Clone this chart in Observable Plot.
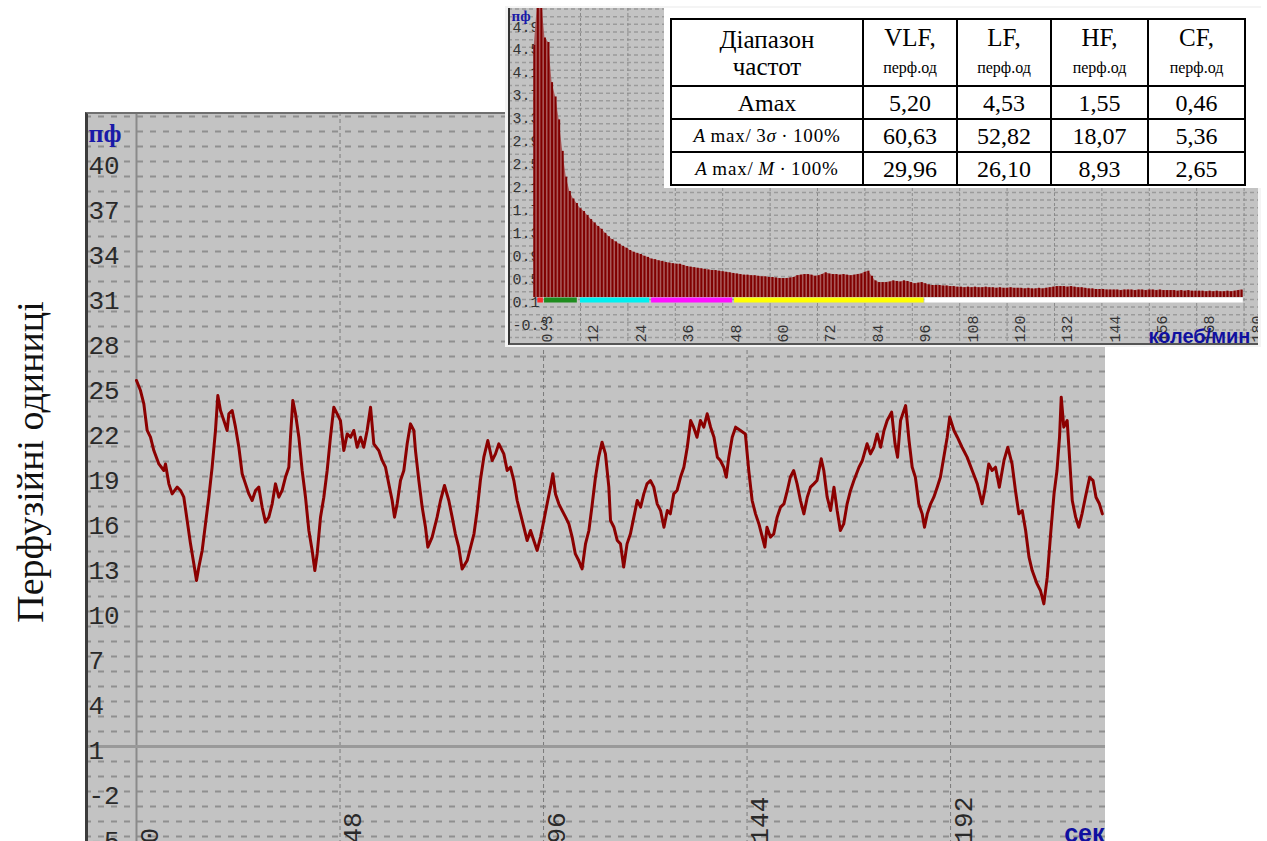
<!DOCTYPE html>
<html><head><meta charset="utf-8">
<script src="https://cdn.jsdelivr.net/npm/d3@7"></script>
<script src="https://cdn.jsdelivr.net/npm/@observablehq/plot@0.6"></script>
<style>
body{margin:0;background:#fff;width:1267px;height:841px;overflow:hidden;position:relative;}
.abs{position:absolute;}
#ylab{left:30px;top:462px;transform:translate(-50%,-50%) rotate(-90deg);white-space:nowrap;font-family:"Liberation Serif",serif;font-size:38px;color:#111;}
#tab{border-collapse:collapse;table-layout:fixed;font-family:"Liberation Serif",serif;color:#000;}
#tab td{border:2px solid #000;text-align:center;padding:0;font-size:24px;line-height:28px;vertical-align:middle;}
#tab tr.h td{line-height:27px;font-size:25px;}
#tab .u{font-size:16px;}
#tab td.f{font-size:19px;letter-spacing:0.8px;white-space:nowrap;}
</style></head><body>
<div id="ylab" class="abs">Перфузійні одиниці</div>
<div id="main" class="abs" style="left:85px;top:112px;width:1020px;height:729px;overflow:hidden"></div>
<div class="abs" style="left:85px;top:112px;width:1020px;height:729px;border-left:3px solid #3c3c3c;border-top:2px solid #707070;box-sizing:border-box;pointer-events:none"></div>
<div class="abs" style="left:505px;top:6px;width:756px;height:341px;background:#f4f4f4"></div>
<div id="inset" class="abs" style="left:508px;top:8px;width:750px;height:337px;overflow:hidden"></div>
<div class="abs" style="left:508px;top:8px;width:750px;height:337px;border-left:2px solid #333;border-bottom:2px solid #555;box-sizing:border-box;pointer-events:none"></div>
<div class="abs" style="left:664px;top:8px;width:597px;height:180px;background:#fff"></div>
<table id="tab" class="abs" style="left:670px;top:18px;width:574px;height:166px;">
<colgroup><col style="width:192px"><col style="width:94px"><col style="width:94px"><col style="width:97px"><col style="width:97px"></colgroup>
<tr class="h" style="height:67px"><td>Діапазон<br>частот</td><td>VLF,<br><span class="u">перф.од</span></td><td>LF,<br><span class="u">перф.од</span></td><td>HF,<br><span class="u">перф.од</span></td><td>CF,<br><span class="u">перф.од</span></td></tr>
<tr style="height:33px"><td>Amax</td><td>5,20</td><td>4,53</td><td>1,55</td><td>0,46</td></tr>
<tr style="height:33px"><td class="f"><i>A</i>&thinsp;max/&thinsp;3<i>σ</i>&thinsp;·&thinsp;100%</td><td>60,63</td><td>52,82</td><td>18,07</td><td>5,36</td></tr>
<tr style="height:33px"><td class="f"><i>A</i>&thinsp;max/&thinsp;<i>M</i>&thinsp;·&thinsp;100%</td><td>29,96</td><td>26,10</td><td>8,93</td><td>2,65</td></tr>
</table>
<script>
// ---------- main perfusion trace (seconds, perfusion units) ----------
const traceSeg1 = [[0,25.4],[0.94,24.73],[1.73,23.84],[2.12,22.96],[2.52,22.07],[3.3,21.62],[4.09,20.73],[5.27,19.84],[6.45,19.4],[6.84,19.84],[7.63,18.51],[8.41,17.84],[9.59,18.29],[10.38,18.07],[11.16,17.62],[11.95,16.07],[12.74,14.51],[13.52,13.18],[14.15,12.07],[14.7,12.96],[15.49,14.07],[16.27,15.84],[17.06,17.62],[17.84,19.62],[18.63,22.07],[19.18,24.4],[19.81,23.4],[20.6,22.73],[21.38,22.07],[21.78,23.18],[22.56,23.4],[23.35,22.29],[24.14,20.95],[24.92,19.18],[25.71,18.51],[26.5,17.84],[27.28,17.4],[28.07,18.07],[28.85,18.29],[29.64,16.95],[30.42,15.96],[31.21,16.29],[32.0,17.18],[32.78,18.51],[33.57,17.62],[34.35,18.07],[35.14,18.96],[35.93,19.62],[36.32,21.62],[36.87,24.07],[37.5,23.18],[38.29,21.62],[39.07,19.4],[39.86,17.62],[40.65,15.4],[41.43,14.07],[42.06,12.73],[42.61,13.84],[43.4,16.29],[44.18,17.62],[44.97,19.4],[45.75,21.62],[46.54,23.62],[47.33,23.18],[48.1,22.73],[48.9,20.73],[49.7,21.84],[50.5,21.62],[51.26,22.07],[52.04,20.95],[52.83,21.62],[53.6,20.95],[54.4,22.07],[55.2,23.62]];
const traceSeg2 = [[55.97,21.18],[57.15,20.73],[57.94,20.07],[58.73,19.62],[59.5,18.51],[60.3,17.4],[60.85,16.29],[61.48,17.18],[62.26,18.73],[63.05,19.4],[63.84,21.18],[64.62,22.51],[65.41,22.07],[65.8,20.73],[66.59,18.73],[67.38,16.96],[68.16,15.62],[68.71,14.29],[69.73,14.96],[70.9,16.29],[71.7,17.4],[72.64,18.4],[73.66,17.4],[74.45,16.29],[75.2,15.18],[76.0,14.29],[76.8,12.84],[77.99,13.4],[78.8,14.29],[79.6,15.18],[80.35,16.73],[81.1,18.73],[81.92,20.29],[82.86,21.4],[83.88,20.07],[84.67,20.51],[85.46,21.18],[86.63,20.51],[87.42,19.4],[88.2,19.62],[89.0,18.73],[89.78,17.4],[90.57,16.51],[91.35,15.62],[92.14,14.73],[92.93,15.4],[93.7,14.73],[94.5,14.07],[95.3,14.96],[96.07,16.07],[97.0,17.4],[97.64,18.29],[98.19,19.18],[98.82,17.84],[99.6,17.18],[100.4,16.73],[101.2,16.29],[101.97,15.84],[102.75,14.96],[103.5,13.84],[104.3,13.4],[105.1,12.84],[105.9,14.51],[106.7,15.4],[107.5,17.18],[108.25,18.95],[109.0,20.29],[109.8,21.29],[110.6,20.51],[111.4,18.29]];
const traceSeg3 = [[111.8,16.07],[112.6,15.62],[113.4,14.73],[114.15,14.51],[114.9,12.96],[115.7,14.51],[116.5,15.18],[117.3,16.29],[118.1,17.4],[118.9,16.96],[119.65,17.84],[120.4,18.51],[121.2,18.73],[122.0,18.29],[122.8,17.18],[123.6,16.73],[124.4,15.62],[125.2,16.73],[125.9,16.51],[126.7,17.84],[127.5,18.07],[128.3,18.95],[129.1,19.62],[129.9,20.95],[130.7,22.73],[131.4,22.29],[132.2,21.62],[133.0,22.73],[133.8,22.29],[134.6,23.18],[135.4,22.29],[136.2,21.62],[137.0,20.29],[137.7,20.07],[138.5,19.62],[139.1,18.95],[139.7,20.29],[140.5,21.62],[141.3,22.29],[142.45,22.07],[143.6,21.84],[144.4,19.4],[145.2,17.4],[146.0,16.51],[146.8,15.84],[147.6,14.96],[148.2,14.29],[148.7,15.62],[149.5,14.96],[150.3,15.18],[151.1,16.29],[151.9,16.96],[152.7,17.18],[153.5,18.07],[154.2,18.95],[155.0,19.4],[155.8,18.51],[156.6,17.4],[157.4,16.51],[158.2,17.62],[158.96,18.29],[159.75,18.51],[160.5,18.73],[161.5,20.18],[162.1,19.4],[162.9,17.62],[163.7,16.73],[164.5,18.29],[165.25,16.73],[166.0,15.4],[166.8,15.84],[167.6,17.18],[168.4,18.07],[169.2,18.73]];
const traceSeg4 = [[170.4,19.62],[171.2,20.07],[172.3,21.18],[173.1,20.51],[173.9,20.95],[174.7,21.84],[175.5,20.95],[176.3,22.07],[177.05,22.73],[178.1,23.29],[178.9,21.18],[179.5,20.29],[180.2,22.73],[181.4,23.73],[182.2,21.4],[182.95,19.62],[183.7,18.95],[184.5,17.18],[185.3,16.51],[185.85,15.62],[186.5,16.51],[187.3,17.18],[188.05,17.62],[188.85,18.29],[189.6,18.95],[190.4,20.29],[191.2,21.62],[191.8,22.96],[192.8,22.07],[193.6,21.62],[194.7,20.95],[195.9,20.29],[197.1,19.4],[198.3,18.51],[199.45,17.18],[200.2,18.29],[201.0,19.84],[201.8,19.4],[202.6,19.62],[203.5,18.29],[204.6,20.07],[205.5,20.95],[206.5,19.84],[207.3,18.07],[208.1,16.51],[208.9,16.73],[209.7,15.4],[210.5,13.62],[211.25,12.73],[212.4,11.84],[213.2,11.4],[214.0,10.51],[214.8,12.29],[215.6,15.18],[216.4,17.84],[217.1,19.4],[217.7,21.62],[218.1,24.29],[218.7,22.29],[219.5,22.73],[220.05,20.29],[220.7,17.4],[221.5,16.29],[222.25,15.62],[223.0,16.51],[223.8,17.62],[224.8,18.95],[225.6,18.73],[226.3,17.62],[227.1,17.18],[227.8,16.51]];
const mainYTicks = [40, 37, 34, 31, 28, 25, 22, 19, 16, 13, 10, 7, 4, 1, -2, -5];
const mainXTicks = [0, 48, 96, 144, 192];
const mainYUnit = "пф";
const mainXUnit = "сек";

// ---------- spectrum inset (oscillations per minute, amplitude) ----------
const specAmp = [4.40,5.20,5.20,4.53,4.45,3.75,3.50,3.10,2.55,2.10,1.85,1.72,1.64,1.55,1.50,1.43,1.36,1.30,1.24,1.19,
1.12,1.06,1.01,0.97,0.93,0.89,0.86,0.82,0.79,0.77,0.75,0.72,0.70,0.67,0.66,0.64,0.63,0.61,0.60,0.59,
0.58,0.58,0.56,0.54,0.53,0.52,0.51,0.50,0.49,0.48,0.47,0.47,0.46,0.45,0.44,0.43,0.42,0.41,0.40,0.39,
0.39,0.38,0.38,0.37,0.36,0.36,0.35,0.35,0.34,0.33,0.33,0.33,0.34,0.35,0.38,0.39,0.40,0.40,0.39,0.37,
0.38,0.40,0.43,0.41,0.40,0.40,0.39,0.40,0.39,0.38,0.39,0.40,0.41,0.44,0.46,0.37,0.29,0.26,0.26,0.26,
0.27,0.29,0.28,0.27,0.29,0.28,0.26,0.24,0.25,0.26,0.24,0.22,0.21,0.21,0.21,0.20,0.20,0.19,0.19,0.18,
0.18,0.17,0.18,0.17,0.18,0.17,0.17,0.18,0.17,0.17,0.16,0.17,0.16,0.16,0.17,0.16,0.16,0.16,0.15,0.16,
0.15,0.15,0.16,0.15,0.16,0.17,0.18,0.19,0.19,0.19,0.18,0.19,0.18,0.17,0.17,0.16,0.15,0.15,0.14,0.14,
0.14,0.13,0.13,0.13,0.13,0.12,0.13,0.13,0.13,0.12,0.13,0.13,0.12,0.13,0.13,0.12,0.13,0.12,0.12,0.12,
0.12,0.11,0.12,0.11,0.12,0.11,0.11,0.11,0.11,0.10,0.11,0.10,0.11,0.10,0.10,0.11,0.10,0.11,0.12,0.13];
const specStart = 0.3, specStep = 0.9;
const bandFrom = [1.2, 2.9, 12, 30, 51, 99.2];
const bandTo = [2.6, 11.2, 29.5, 50.5, 99, 179.8];
const bandColor = ["#ff2a2a", "#1e8c1e", "#00f0f0", "#ff10ff", "#ffff00", "#ffffff"];
const insetYTicks = [-0.3, 0.1, 0.5, 0.9, 1.3, 1.7, 2.1, 2.5, 2.9, 3.3, 3.7, 4.1, 4.5, 4.9];
const insetXTicks = [0.3, 12, 24, 36, 48, 60, 72, 84, 96, 108, 120, 132, 144, 156, 168, 180];
const insetYUnit = "пф";
const insetXUnit = "колеб/мин";

// ---------- build ----------
const trace = [...traceSeg1, ...traceSeg2, ...traceSeg3, ...traceSeg4].map(([t, v]) => ({t, v}));
const spec = specAmp.map((a, i) => ({f: specStart + specStep * i, a}));
const bands = bandFrom.map((f, i) => ({from: f, to: bandTo[i], color: bandColor[i]}));

const mono = "Liberation Mono, DejaVu Sans Mono, monospace";
const grey = "#c3c3c3";

const mainPlot = Plot.plot({
  width: 1020, height: 729, margin: 0,
  x: {domain: [-12.028, 228.54], axis: null},
  y: {domain: [-5.333, 43.267], axis: null},
  style: {background: grey, overflow: "hidden"},
  marks: [
    Plot.ruleY(d3.range(-5, 44), {stroke: "#8f8f8f", strokeWidth: 2, strokeDasharray: "6,7"}),
    Plot.ruleX(mainXTicks.slice(1), {stroke: "#7a7a7a", strokeWidth: 1, strokeDasharray: "4,3"}),
    Plot.ruleX([0], {stroke: "#8a8a8a", strokeWidth: 2}),
    Plot.ruleY([1], {stroke: "#999", strokeWidth: 3}),
    Plot.text(mainYTicks, {y: d => d, text: d => String(d), frameAnchor: "left", textAnchor: "start", lineAnchor: "middle", dx: 3, dy: 4, fontSize: 26, fontFamily: mono, fill: "#2a2a2a"}),
    Plot.text(mainXTicks, {x: d => d, text: d => String(d), frameAnchor: "bottom", lineAnchor: "middle", rotate: -90, textAnchor: "start", dx: 13, dy: 2, fontSize: 26, fontFamily: mono, fill: "#2a2a2a"}),
    Plot.line(trace, {x: "t", y: "v", stroke: "#8b0000", strokeWidth: 3, strokeLinejoin: "round"}),
    Plot.text([mainXUnit], {frameAnchor: "bottom-right", textAnchor: "end", lineAnchor: "middle", dx: -1, dy: -8, fontWeight: "bold", fill: "#1010a0", fontSize: 25, fontFamily: "Liberation Sans, sans-serif"}),
    Plot.text([mainYUnit], {frameAnchor: "top-left", textAnchor: "start", lineAnchor: "middle", dx: 3, dy: 21, fontWeight: "bold", fill: "#1a1aa8", fontSize: 26, fontFamily: "Liberation Serif, serif"})
  ]
});
document.getElementById("main").appendChild(mainPlot);

const insetPlot = Plot.plot({
  width: 750, height: 337, margin: 0,
  x: {domain: [-6.228, 183.65], axis: null},
  y: {domain: [-0.8377, 5.0436], axis: null},
  color: {type: "identity"},
  style: {background: grey, overflow: "hidden"},
  marks: [
    Plot.ruleY(d3.range(-4, 41).map(k => -0.3 + k * 0.4 / 3), {stroke: "#9b9b9b", strokeWidth: 1.5, strokeDasharray: "4,3"}),
    Plot.ruleX(insetXTicks.slice(1), {stroke: "#8a8a8a", strokeWidth: 1, strokeDasharray: "3,2"}),
    Plot.text(insetYTicks, {y: d => d, text: d => d.toFixed(1), frameAnchor: "left", textAnchor: "start", lineAnchor: "middle", dx: 4, dy: 10, fontSize: 15, fontFamily: mono, fill: "#333"}),
    Plot.areaY(spec, {x: "f", y: "a", fill: "#a95a5a"}),
    Plot.ruleX(spec, {x: "f", y1: 0, y2: "a", stroke: "#800000", strokeWidth: 2}),
    Plot.ruleY(bands, {y: 0, x1: "from", x2: "to", stroke: "color", strokeWidth: 5, dy: 2.5}),
    Plot.text(insetXTicks, {x: d => d, text: d => String(d), frameAnchor: "bottom", lineAnchor: "middle", rotate: -90, textAnchor: "start", dx: 13, dy: -3, fontSize: 15, fontFamily: mono, fill: "#333"}),
    Plot.text([insetYUnit], {frameAnchor: "top-left", textAnchor: "start", lineAnchor: "middle", dx: 3, dy: 8, fontWeight: "bold", fill: "#1a1aa8", fontSize: 15, fontFamily: "Liberation Serif, serif"}),
    Plot.text([insetXUnit], {frameAnchor: "bottom-right", textAnchor: "start", lineAnchor: "middle", dx: -110, dy: -9, fontWeight: "bold", fill: "#1010a0", fontSize: 20, letterSpacing: 2, fontFamily: "Liberation Sans, sans-serif"})
  ]
});
document.getElementById("inset").appendChild(insetPlot);
</script>
</body></html>
